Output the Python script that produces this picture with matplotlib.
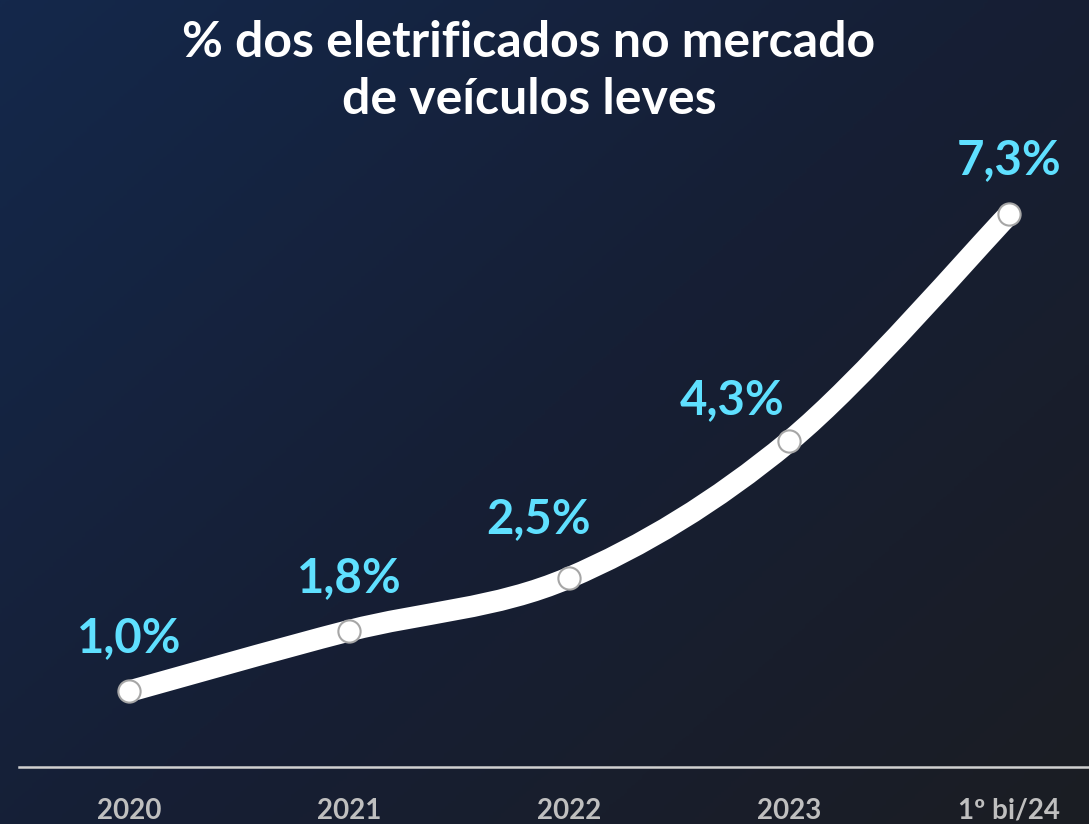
import numpy as np
import matplotlib
matplotlib.use("Agg")
import matplotlib.pyplot as plt
from matplotlib.path import Path
from matplotlib.patches import PathPatch
from matplotlib.colors import LinearSegmentedColormap

# data
categories = ["2020", "2021", "2022", "2023", "1º bi/24"]
share = [1.0, 1.8, 2.5, 4.3, 7.3]
labels = ["1,0%", "1,8%", "2,5%", "4,3%", "7,3%"]
# label offsets in points (dx, dy) relative to each marker
label_offsets = [(0, 38), (0, 38), (-22, 42), (-41, 30), (0, 39)]

plt.rcParams['font.family'] = ['Lato', 'DejaVu Sans']

fig = plt.figure(figsize=(10.89, 8.24), dpi=100)

# diagonal gradient background
bg = fig.add_axes([0, 0, 1, 1])
gx, gy = np.meshgrid(np.linspace(0, 1, 300), np.linspace(0, 1, 300))
grad = (gx * 0.55 + gy * 0.45)
cmap = LinearSegmentedColormap.from_list("bg", ["#14284b", "#161f35", "#1b1d23"])
bg.imshow(grad, cmap=cmap, aspect="auto", extent=[0, 1, 0, 1], origin="upper")
bg.axis("off")

ax = fig.add_axes([19 / 1089, 57 / 824, 1070 / 1089, 617 / 824])
ax.patch.set_alpha(0)
x = np.arange(len(categories))

# smoothed line (Excel-style bezier through the points)
pts = np.column_stack([x, share]).astype(float)
verts = [tuple(pts[0])]
codes = [Path.MOVETO]
n = len(pts)
for i in range(n - 1):
    p0 = pts[max(i - 1, 0)]
    p1 = pts[i]
    p2 = pts[i + 1]
    p3 = pts[min(i + 2, n - 1)]
    c1 = p1 + (p2 - p0) / 6
    c2 = p2 - (p3 - p1) / 6
    verts += [tuple(c1), tuple(c2), tuple(p2)]
    codes += [Path.CURVE4] * 3
ax.add_patch(PathPatch(Path(verts, codes), facecolor="none", edgecolor="white",
                       lw=15.5, capstyle="butt", joinstyle="round", zorder=2))

ax.plot(x, share, linestyle="none", marker="o", markersize=16,
        markerfacecolor="white", markeredgecolor="#a6a6a6", markeredgewidth=1.5, zorder=3)

for xi, yi, lab, off in zip(x, share, labels, label_offsets):
    ax.annotate(lab, (xi, yi), xytext=off, textcoords="offset points",
                ha="center", va="center", color="#5fe0ff", fontsize=34,
                fontweight="bold")

ax.set_xlim(-0.5, (1089 - 129) / 220)
ax.set_ylim(0, 617 / 75.7)
ax.set_xticks(x)
ax.set_xticklabels(categories, color="#bfbfbf", fontsize=20, fontweight="bold")
ax.tick_params(axis="x", length=0, pad=22)
ax.set_yticks([])
for s in ["top", "right", "left"]:
    ax.spines[s].set_visible(False)
ax.spines["bottom"].set_color("#d0d0d0")
ax.spines["bottom"].set_linewidth(1.8)

fig.text(529 / 1089, 1 - 71 / 824, "% dos eletrificados no mercado\nde veículos leves",
         ha="center", va="center", color="white", fontsize=36, fontweight="bold",
         linespacing=1.3)

fig.savefig("out.png", dpi=100)
